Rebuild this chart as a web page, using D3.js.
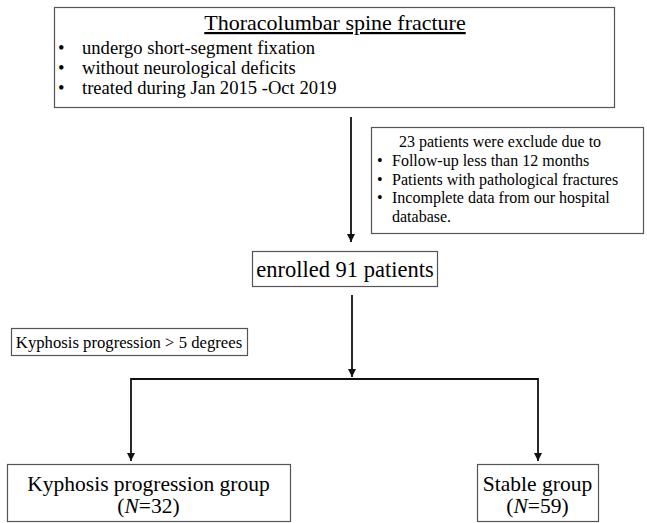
<!DOCTYPE html>
<html><head><meta charset="utf-8">
<script src="https://cdn.jsdelivr.net/npm/d3@7"></script>
<style>body{margin:0;background:#fff}svg{display:block}</style>
</head><body>
<script>
const titleText = "Thoracolumbar spine fracture";
const inclusionItems = ["undergo short-segment fixation","without neurological deficits","treated during Jan 2015 -Oct 2019"];
const exclusionHeader = "23 patients were exclude due to";
const exclusionItems = [["Follow-up less than 12 months"],["Patients with pathological fractures"],["Incomplete data from our hospital","database."]];
const enrolledLabel = "enrolled 91 patients";
const criterionLabel = "Kyphosis progression > 5 degrees";
const groups = ["Kyphosis progression group","Stable group"];
const groupN = [32, 59];

const FONT = "Liberation Serif";
const W = 647, H = 523;
const svg = d3.select("body").append("svg").attr("width", W).attr("height", H);
const defs = svg.append("defs");
defs.append("marker").attr("id","ah").attr("viewBox","0 0 10 10").attr("refX",10).attr("refY",5)
  .attr("markerWidth",8).attr("markerHeight",10).attr("markerUnits","userSpaceOnUse").attr("orient","auto")
  .append("path").attr("d","M0,0L10,5L0,10Z").attr("fill","#111");

function txt(x,y,size,s,anchor){return svg.append("text").attr("x",x).attr("y",y).attr("font-size",size)
  .attr("font-family",FONT).attr("fill","#000").attr("text-anchor",anchor||"start").text(s);}
function box(x,y,w,h){svg.append("rect").attr("x",x+0.5).attr("y",y+0.5).attr("width",w).attr("height",h)
  .attr("fill","#fff").attr("stroke","#555").attr("stroke-width",1.2);}
function arrow(x1,y1,x2,y2,head){const l=svg.append("line").attr("x1",x1).attr("y1",y1).attr("x2",x2).attr("y2",y2)
  .attr("stroke","#111").attr("stroke-width",1.8); if(head) l.attr("marker-end","url(#ah)");}

// top box
box(54,7,560,100);
txt(335,30,22,titleText,"middle").attr("text-decoration","underline");
inclusionItems.forEach((d,i)=>{
  txt(58,54+i*20,18.6,"•");
  txt(82,54+i*20,18.6,d);
});

// arrow to enrolled
arrow(351,117,351,242,true);

// exclusion box
box(371,127,272,106);
txt(500,147,16,exclusionHeader,"middle");
let line=0;
exclusionItems.forEach((lines)=>{
  lines.forEach((s,j)=>{
    const y=166+line*18.7;
    if(j===0) txt(377,y,16,"•");
    txt(392,y,16,s);
    line++;
  });
});

// enrolled
box(252,251,185,35);
txt(345,277,22.5,enrolledLabel,"middle");

// criterion
box(11,328,236,27);
txt(129,348,16.7,criterionLabel,"middle");

// branch
arrow(352,295,352,377,true);
arrow(131,379,538,379,false);
[131,538].forEach(x=>arrow(x,378,x,461,true));

const gb=[[7,464,283,57],[477,464,121,57]];
groups.forEach((g,i)=>{
  const [x,y,w,h]=gb[i];
  box(x,y,w,h);
  txt(x+w/2,491,21.5,g,"middle");
  // "(N=xx)" built from three adjacent pieces
  const a=txt(0,513,21.5,"("), b=txt(0,513,21.5,"N").attr("font-style","italic"), c=txt(0,513,21.5,"="+groupN[i]+")");
  const wa=a.node().getComputedTextLength(), wb=b.node().getComputedTextLength(), wc=c.node().getComputedTextLength();
  const x0=x+w/2-(wa+wb+wc)/2;
  a.attr("x",x0); b.attr("x",x0+wa); c.attr("x",x0+wa+wb);
});
</script>
</body></html>
